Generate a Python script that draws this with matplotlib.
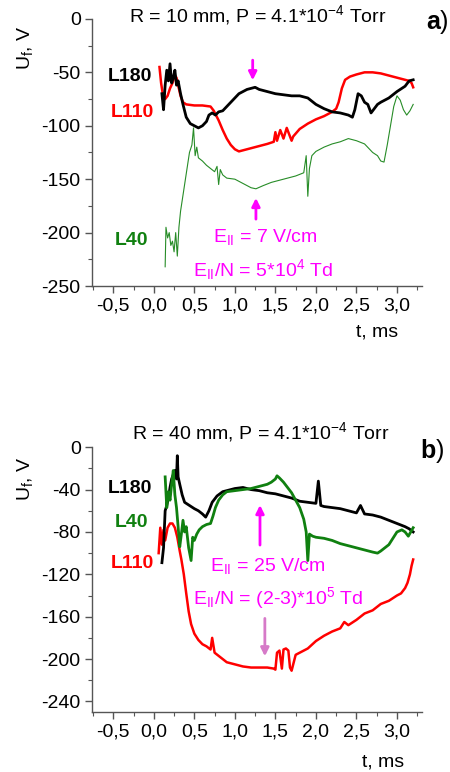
import numpy as np
import matplotlib
matplotlib.use('Agg')
from matplotlib import pyplot as plt
from matplotlib.ticker import MultipleLocator

plt.rcParams['font.family'] = ['Liberation Sans', 'DejaVu Sans']
plt.rcParams['mathtext.fontset'] = 'custom'
plt.rcParams['mathtext.rm'] = 'Liberation Sans'
plt.rcParams['mathtext.it'] = 'Liberation Sans:italic'
plt.rcParams['mathtext.bf'] = 'Liberation Sans:bold'
plt.rcParams['mathtext.default'] = 'regular'

# ---- panel a: R = 10 mm ----
a_t180 = [0.10, 0.12, 0.14, 0.16, 0.18, 0.20, 0.22, 0.24, 0.26, 0.28, 0.30, 0.33, 0.36, 0.40, 0.45,
          0.50, 0.55, 0.60, 0.65, 0.68, 0.72, 0.76, 0.80, 0.85, 0.90, 0.95, 1.00, 1.05, 1.10, 1.15,
          1.20, 1.25, 1.30, 1.35, 1.40, 1.50, 1.60, 1.70, 1.80, 1.90, 2.00, 2.10, 2.20, 2.30, 2.40,
          2.45, 2.48, 2.52, 2.56, 2.60, 2.64, 2.68, 2.72, 2.76, 2.80, 2.90, 3.00, 3.10, 3.15, 3.20]
a_v180 = [-70, -85, -62, -48, -58, -42, -60, -55, -48, -62, -58, -70, -80, -92, -98,
          -100, -102, -100, -96, -90, -88, -90, -87, -86, -82, -78, -74, -70, -68, -66,
          -65, -64, -66, -67, -68, -70, -71, -72, -72, -74, -80, -84, -87, -88, -90,
          -92, -85, -70, -72, -78, -80, -88, -84, -80, -78, -74, -68, -63, -58, -57]

a_t110 = [0.07, 0.09, 0.11, 0.14, 0.17, 0.20, 0.23, 0.26, 0.28, 0.30, 0.33, 0.36, 0.40, 0.50,
          0.60, 0.70, 0.74, 0.80, 0.85, 0.90, 0.95, 1.00, 1.05, 1.10, 1.20, 1.30, 1.40, 1.48,
          1.50, 1.52, 1.56, 1.60, 1.64, 1.68, 1.70, 1.72, 1.80, 1.90, 2.00, 2.10, 2.20, 2.25,
          2.28, 2.32, 2.36, 2.42, 2.50, 2.60, 2.70, 2.80, 2.90, 3.00, 3.10, 3.15, 3.18, 3.20]
a_v110 = [-45, -60, -70, -75, -72, -65, -60, -53, -55, -62, -72, -78, -80, -81,
          -81, -82, -86, -95, -104, -112, -118, -122, -124, -123, -121, -119, -117, -115,
          -106, -114, -104, -112, -102, -110, -114, -110, -103, -98, -94, -91, -87, -84,
          -78, -65, -57, -54, -52, -50, -50, -51, -53, -55, -57, -58, -60, -64]

a_t40 = [0.14, 0.15, 0.17, 0.19, 0.21, 0.23, 0.25, 0.27, 0.29, 0.31, 0.33, 0.36, 0.40, 0.44,
         0.47, 0.49, 0.51, 0.53, 0.55, 0.60, 0.65, 0.70, 0.75, 0.78, 0.80, 0.82, 0.85, 0.90,
         1.00, 1.10, 1.20, 1.26, 1.35, 1.45, 1.55, 1.65, 1.75, 1.85, 1.88, 1.90, 1.92, 1.95,
         2.00, 2.10, 2.20, 2.30, 2.40, 2.50, 2.60, 2.70, 2.76, 2.80, 2.84, 2.88, 2.92, 2.96,
         3.00, 3.04, 3.08, 3.12, 3.16, 3.20]
a_v40 = [-232, -195, -205, -200, -212, -208, -218, -200, -222, -195, -180, -165, -145, -125,
         -118, -102, -128, -120, -130, -133, -137, -140, -143, -138, -155, -141, -146, -149,
         -150, -154, -158, -159, -156, -153, -151, -149, -147, -144, -128, -166, -140, -128,
         -124, -120, -117, -115, -112, -114, -117, -125, -128, -133, -134, -118, -100, -82,
         -72, -76, -85, -90, -86, -80]

# ---- panel b: R = 40 mm ----
b_t180 = [0.10, 0.12, 0.14, 0.16, 0.18, 0.20, 0.22, 0.24, 0.26, 0.28, 0.29, 0.30, 0.32, 0.35,
          0.38, 0.42, 0.46, 0.50, 0.55, 0.60, 0.64, 0.68, 0.72, 0.78, 0.85, 0.90, 1.00, 1.10,
          1.20, 1.30, 1.40, 1.50, 1.60, 1.70, 1.80, 1.90, 2.00, 2.03, 2.06, 2.10, 2.20, 2.30,
          2.40, 2.50, 2.55, 2.60, 2.70, 2.80, 2.90, 3.00, 3.10, 3.15, 3.20]
b_v180 = [-109, -95, -60, -55, -48, -38, -30, -26, -22, -30, -8, -28, -35, -45,
          -52, -54, -56, -58, -60, -63, -66, -60, -52, -46, -42, -41, -39, -38,
          -40, -41, -43, -44, -46, -48, -51, -52, -53, -32, -55, -56, -57, -58,
          -60, -62, -55, -63, -64, -66, -69, -72, -75, -77, -80]

b_t40 = [0.14, 0.16, 0.18, 0.20, 0.22, 0.24, 0.26, 0.28, 0.30, 0.32, 0.34, 0.36, 0.38, 0.40,
         0.43, 0.46, 0.48, 0.50, 0.53, 0.56, 0.60, 0.65, 0.70, 0.73, 0.76, 0.80, 0.85, 0.90,
         1.00, 1.10, 1.20, 1.30, 1.40, 1.45, 1.50, 1.52, 1.55, 1.60, 1.65, 1.70, 1.75, 1.80,
         1.85, 1.88, 1.90, 1.92, 1.96, 2.00, 2.10, 2.20, 2.30, 2.40, 2.50, 2.60, 2.70, 2.76,
         2.80, 2.90, 3.00, 3.06, 3.10, 3.14, 3.20]
b_v40 = [-28, -57, -42, -50, -35, -22, -45, -57, -75, -94, -82, -69, -80, -75,
         -95, -107, -85, -88, -82, -78, -75, -73, -72, -65, -57, -50, -45, -42,
         -41, -40, -39, -37, -35, -33, -30, -27, -29, -33, -38, -43, -50, -57,
         -68, -80, -107, -82, -84, -85, -86, -88, -91, -93, -95, -97, -99, -100,
         -98, -92, -80, -78, -80, -84, -76]

b_t110 = [0.06, 0.08, 0.10, 0.12, 0.14, 0.17, 0.20, 0.23, 0.26, 0.29, 0.32, 0.34, 0.37, 0.40,
          0.43, 0.46, 0.50, 0.55, 0.60, 0.65, 0.70, 0.72, 0.75, 0.80, 0.85, 0.90, 1.00, 1.10,
          1.20, 1.30, 1.40, 1.48, 1.50, 1.52, 1.55, 1.58, 1.60, 1.63, 1.66, 1.68, 1.70, 1.75,
          1.80, 1.90, 2.00, 2.10, 2.20, 2.30, 2.35, 2.40, 2.50, 2.60, 2.70, 2.80, 2.90, 3.00,
          3.05, 3.10, 3.13, 3.16, 3.18, 3.20]
b_v110 = [-100, -76, -92, -78, -88, -76, -72, -72, -76, -85, -98, -106, -120, -138,
          -155, -167, -176, -182, -186, -188, -191, -180, -194, -197, -200, -203, -205, -207,
          -208, -208, -208, -209, -210, -194, -192, -209, -191, -190, -192, -208, -211, -196,
          -194, -190, -183, -178, -174, -171, -165, -168, -163, -157, -154, -148, -145, -140,
          -138, -133, -128, -120, -112, -106]

x_ticks = [-0.5, 0.0, 0.5, 1.0, 1.5, 2.0, 2.5, 3.0]
x_labels = ['-0,5', '0,0', '0,5', '1,0', '1,5', '2,0', '2,5', '3,0']
a_yticks = [0, -50, -100, -150, -200, -250]
b_yticks = [0, -40, -80, -120, -160, -200, -240]

FS = 14
MAG = '#ff00ff'
GREEN = '#108010'

fig = plt.figure(figsize=(4.5, 7.72), dpi=100)
ax_a = fig.add_axes([0.204, 0.6295, 0.734, 0.346])
ax_b = fig.add_axes([0.204, 0.0777, 0.734, 0.343])


def style_axes(ax, yticks, yminor):
    for s in ['top', 'right']:
        ax.spines[s].set_visible(False)
    for s in ['left', 'bottom']:
        ax.spines[s].set_color('#555555')
        ax.spines[s].set_linewidth(1.0)
    ax.set_xlim(-0.765, 3.31)
    ax.set_ylim(-250, 0)
    ax.set_xticks(x_ticks)
    ax.set_xticklabels(x_labels)
    ax.xaxis.set_minor_locator(MultipleLocator(0.25))
    ax.set_yticks(yticks)
    ax.set_yticklabels([str(v) for v in yticks])
    ax.yaxis.set_minor_locator(MultipleLocator(yminor))
    ax.tick_params(which='major', length=5, width=1, color='#555555', labelsize=FS, pad=3)
    ax.tick_params(which='minor', length=3, width=0.8, color='#555555')


# panel a
ax_a.plot(a_t40, a_v40, color=GREEN, lw=0.8, alpha=0.9)
ax_a.plot(a_t110, a_v110, color='red', lw=1.8)
ax_a.plot(a_t180, a_v180, color='black', lw=2.0)
style_axes(ax_a, a_yticks, 25)
ax_a.text(-0.30, -54, 'L180', color='black', fontsize=FS, fontweight='bold', ha='center', va='center')
ax_a.text(-0.27, -88, 'L110', color='red', fontsize=FS, fontweight='bold', ha='center', va='center')
ax_a.text(-0.28, -207, 'L40', color=GREEN, fontsize=FS, fontweight='bold', ha='center', va='center')
ax_a.annotate('', xy=(1.22, -60), xytext=(1.22, -36),
              arrowprops=dict(arrowstyle='-|>', color=MAG, lw=2, mutation_scale=12))
ax_a.annotate('', xy=(1.26, -165), xytext=(1.26, -190),
              arrowprops=dict(arrowstyle='-|>', color=MAG, lw=2, mutation_scale=12))
ax_a.text(1.37, -204, r'E$_{II}$ = 7 V/cm', color=MAG, fontsize=FS, ha='center', va='center')
ax_a.text(1.35, -235, r'E$_{II}$/N = 5*10$^4$ Td', color=MAG, fontsize=FS, ha='center', va='center')

# panel b
ax_b.plot(b_t110, b_v110, color='red', lw=1.8)
ax_b.plot(b_t180, b_v180, color='black', lw=2.0)
ax_b.plot(b_t40, b_v40, color=GREEN, lw=2.0)
style_axes(ax_b, b_yticks, 20)
ax_b.text(-0.30, -39, 'L180', color='black', fontsize=FS, fontweight='bold', ha='center', va='center')
ax_b.text(-0.28, -71, 'L40', color=GREEN, fontsize=FS, fontweight='bold', ha='center', va='center')
ax_b.text(-0.26, -110, 'L110', color='red', fontsize=FS, fontweight='bold', ha='center', va='center')
ax_b.annotate('', xy=(1.31, -52), xytext=(1.31, -95),
              arrowprops=dict(arrowstyle='-|>', color=MAG, lw=2, mutation_scale=12))
ax_b.annotate('', xy=(1.37, -200), xytext=(1.37, -159),
              arrowprops=dict(arrowstyle='-|>', color='#d67ac8', lw=2, mutation_scale=12))
ax_b.text(1.40, -112, r'E$_{II}$ = 25 V/cm', color=MAG, fontsize=FS, ha='center', va='center')
ax_b.text(1.53, -142, r'E$_{II}$/N = (2-3)*10$^5$ Td', color=MAG, fontsize=FS, ha='center', va='center')

# titles, panel letters, axis labels
fig.text(258 / 450, 1 - 15 / 772, r'R = 10 mm, P = 4.1*10$^{-4}$ Torr', fontsize=FS, ha='center', va='center')
fig.text(261 / 450, 1 - 432 / 772, r'R = 40 mm, P = 4.1*10$^{-4}$ Torr', fontsize=FS, ha='center', va='center')
fig.text(437 / 450, 1 - 22 / 772, r'$\mathbf{a}$)', fontsize=18, ha='center', va='center')
fig.text(432 / 450, 1 - 451 / 772, r'$\mathbf{b}$)', fontsize=18, ha='center', va='center')
fig.text(25 / 450, 1 - 48 / 772, r'U$_f$, V', fontsize=FS, rotation=90, ha='center', va='center')
fig.text(25 / 450, 1 - 479 / 772, r'U$_f$, V', fontsize=FS, rotation=90, ha='center', va='center')
fig.text(377 / 450, 1 - 332 / 772, 't, ms', fontsize=FS, ha='center', va='center')
fig.text(383 / 450, 1 - 762 / 772, 't, ms', fontsize=FS, ha='center', va='center')

plt.savefig('out.png', dpi=100)
